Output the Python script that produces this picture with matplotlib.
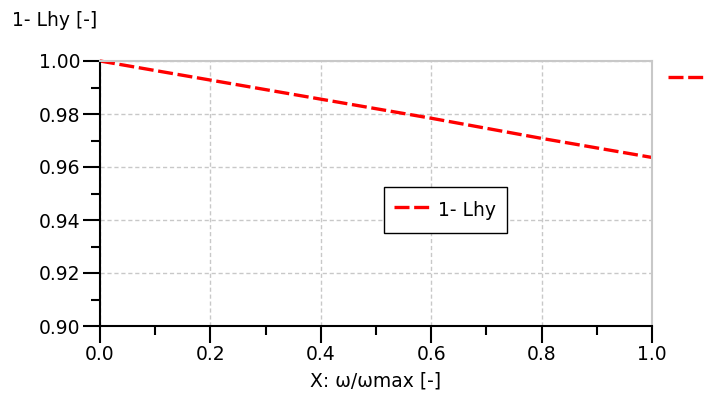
import matplotlib
matplotlib.use('Agg')
import matplotlib.pyplot as plt
from matplotlib.ticker import MultipleLocator

x_vals = [0.0, 0.2, 0.4, 0.6, 0.8, 1.0]
y_vals = [1.0, 0.9928, 0.9856, 0.9784, 0.9708, 0.9636]
series_label = '1- Lhy'
x_label = 'X: ω/ωmax [-]'
y_label = '1- Lhy [-]'

plt.rcParams['font.family'] = ['DejaVu Sans']
plt.rcParams['font.size'] = 13.5

fig = plt.figure(figsize=(7.06, 4.03), dpi=100)
ax = fig.add_axes([100/706, 77/403, 552/706, 265/403])

line, = ax.plot(x_vals, y_vals, color='#ff0000', lw=2.4, ls=(0, (4.5, 1.4)),
                label=series_label, clip_on=False)

ax.set_xlim(0, 1)
ax.set_ylim(0.9, 1.0)
ax.xaxis.set_major_locator(MultipleLocator(0.2))
ax.xaxis.set_minor_locator(MultipleLocator(0.1))
ax.yaxis.set_major_locator(MultipleLocator(0.02))
ax.yaxis.set_minor_locator(MultipleLocator(0.01))
ax.xaxis.set_major_formatter(matplotlib.ticker.FormatStrFormatter('%.1f'))
ax.yaxis.set_major_formatter(matplotlib.ticker.FormatStrFormatter('%.2f'))

ax.grid(True, which='major', color='#c8c8c8', ls=(0, (3, 2)), lw=1)
ax.tick_params(which='major', length=12, width=1.5, direction='out', pad=2)
ax.tick_params(which='minor', length=6.5, width=1.5, direction='out')
for s in ['left', 'bottom']:
    ax.spines[s].set_linewidth(1.5)
for s in ['top', 'right']:
    ax.spines[s].set_color('#c8c8c8')
    ax.spines[s].set_linewidth(1.5)

ax.set_xlabel(x_label, labelpad=5)
fig.text(12/706, 1 - 20/403, y_label, ha='left', va='center')

ax.legend(loc='upper left', bbox_to_anchor=((384-100)/552, (326-187)/265),
          borderaxespad=0, fancybox=False, edgecolor='black', framealpha=1,
          handlelength=2.0, handletextpad=0.35, borderpad=0.55,
          handleheight=1.7)
# second legend cut off at the right edge: only its dashed handle shows
fig.legend(handles=[line], labels=[''], loc='upper left',
           bbox_to_anchor=(668/706, 1 - 69/403), frameon=False,
           handlelength=2.6, borderpad=0, borderaxespad=0)

fig.savefig('out.png', dpi=100)
